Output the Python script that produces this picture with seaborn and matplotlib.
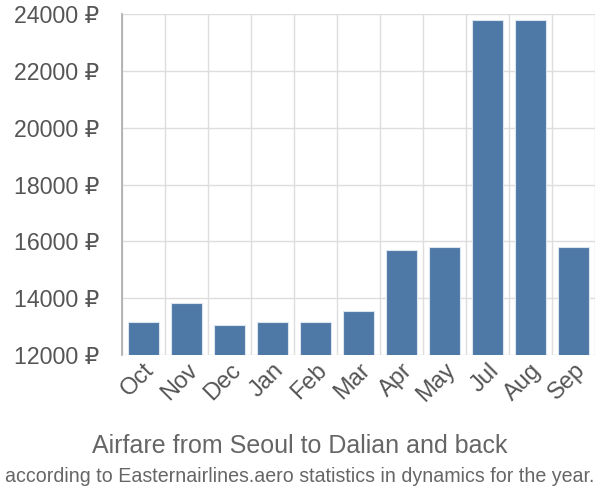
import matplotlib
matplotlib.use("Agg")
import matplotlib.pyplot as plt
import seaborn as sns
import pandas as pd
from matplotlib.ticker import FuncFormatter, MultipleLocator

months = ["Oct", "Nov", "Dec", "Jan", "Feb", "Mar", "Apr", "May", "Jul", "Aug", "Sep"]
prices = [13160, 13840, 13040, 13160, 13160, 13560, 15710, 15810, 23800, 23800, 15810]
title = "Airfare from Seoul to Dalian and back"
subtitle = "according to Easternairlines.aero statistics in dynamics for the year."

sns.set_theme(style="white")
plt.rcParams["font.family"] = ["Liberation Sans", "DejaVu Sans"]

df = pd.DataFrame({"month": months, "price": prices})

fig = plt.figure(figsize=(6, 5), dpi=100)
ax = fig.add_axes([0.203, 0.29, 0.789, 0.682])

sns.barplot(data=df, x="month", y="price", color="#4e79a7", saturation=1,
            width=0.72, edgecolor="#dbe4ef", linewidth=0.8, ax=ax, zorder=3)

ax.set_ylim(12000, 24000)
ax.set_xlim(-0.5, len(months) - 0.5)
ax.yaxis.set_major_locator(MultipleLocator(2000))
ax.yaxis.set_major_formatter(FuncFormatter(lambda v, p: f"{int(v)} ₽"))

# grid
for y in range(12000, 24001, 2000):
    ax.axhline(y, color="#dddddd", lw=1, zorder=1)
for i in range(len(months) + 1):
    ax.axvline(i - 0.5, color="#dddddd", lw=1, zorder=1)

for s in ["top", "right", "bottom"]:
    ax.spines[s].set_visible(False)
ax.spines["left"].set_color("#aaaaaa")
ax.spines["left"].set_linewidth(1.2)
ax.spines["left"].set_zorder(4)

ax.set_xlabel("")
ax.set_ylabel("")
ax.set_xticks([i - 0.5 for i in range(len(months) + 1)], minor=True)
ax.tick_params(axis="x", which="major", length=0, labelsize=17, labelcolor="#555555", pad=3)
ax.tick_params(axis="x", which="minor", length=11, color="#dddddd", width=1)
ax.tick_params(axis="y", length=15, color="#dddddd", width=1, labelsize=16.7,
               labelcolor="#555555", pad=1)
plt.setp(ax.get_xticklabels(), rotation=45, ha="right", rotation_mode="anchor")

fig.text(0.5, 0.108, title, ha="center", va="center", fontsize=18, color="#666666")
fig.text(0.5, 0.048, subtitle, ha="center", va="center", fontsize=14.1, color="#666666")

fig.savefig("out.png", dpi=100)
